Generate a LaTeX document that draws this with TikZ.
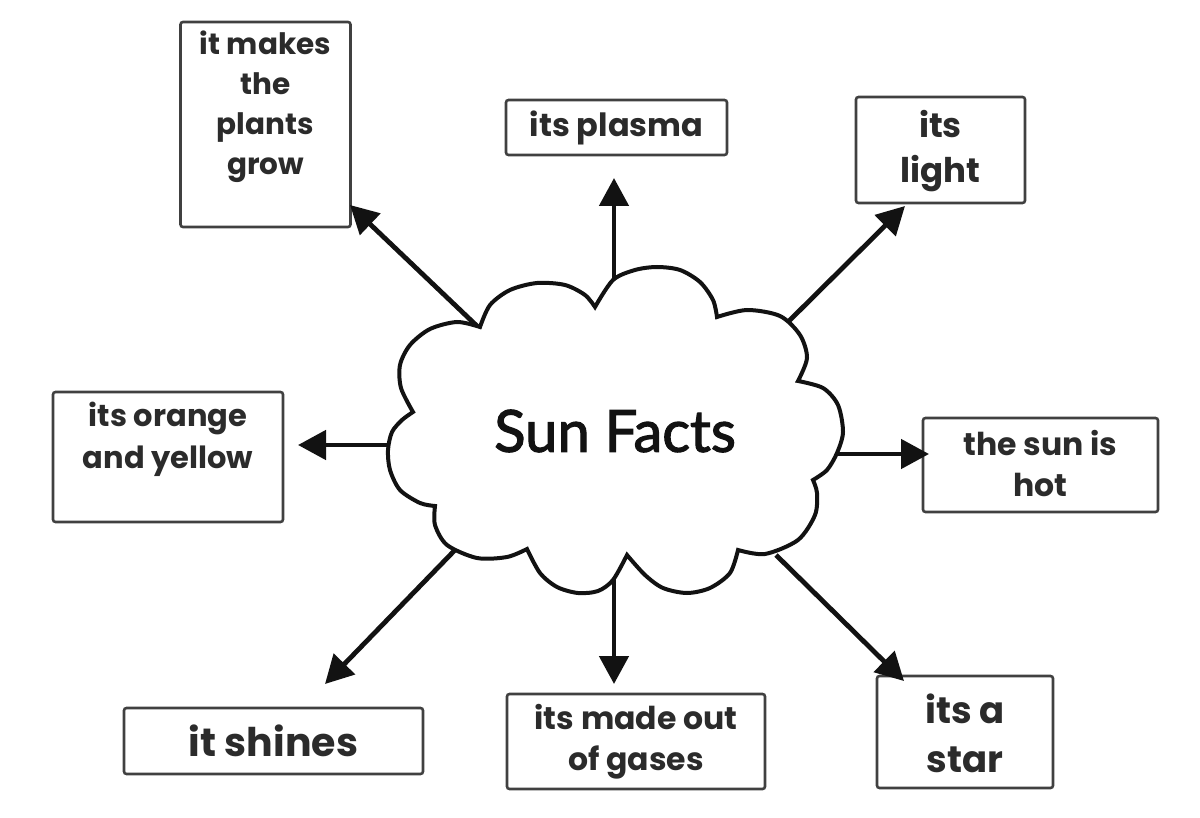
\documentclass[tikz,border=0pt]{standalone}
\usepackage{fontspec}
\setmainfont{Poppins}
\newfontfamily\cloudfont[FakeBold=2]{Lato}
\usetikzlibrary{arrows.meta}
\definecolor{boxline}{HTML}{404040}
\definecolor{txtcol}{HTML}{2B2B2B}
\definecolor{ink}{HTML}{121212}
\tikzset{
  factbox/.style={draw=boxline, line width=2.6pt, rounded corners=2.5pt, fill=white, inner sep=0pt},
  facttxt/.style={text=txtcol, align=center, inner sep=0pt},
  arr/.style={draw=ink, line width=4.8pt, -{Triangle[length=28pt,width=29pt]}},
  cloudline/.style={draw=ink, fill=white, line width=4pt},
}
\newcommand{\fs}[2]{\fontsize{#1}{#2}\selectfont\bfseries}
\begin{document}
\begin{tikzpicture}[x=1pt, y=-1pt]
\useasboundingbox (0,0) rectangle (1200,818);

% boxes
\node[factbox, minimum width=170pt, minimum height=205pt] (plants) at (265.5,124.5) {};
\node[facttxt, font=\fs{29.5}{40}] (plantsT) at (265.5,107) {it makes\\the\\plants\\grow};

\node[factbox, minimum width=221pt, minimum height=55pt] (plasma) at (616.5,127.5) {};
\node[facttxt, font=\fs{32}{40}] (plasmaT) at (616.5,128) {its plasma};

\node[factbox, minimum width=169pt, minimum height=106pt] (light) at (940.5,150) {};
\node[facttxt, font=\fs{34}{45}] (lightT) at (940.5,151) {its\\light};

\node[factbox, minimum width=230pt, minimum height=130pt] (orange) at (168,457) {};
\node[facttxt, font=\fs{30.5}{42}] (orangeT) at (168,439) {its orange\\and yellow};

\node[factbox, minimum width=235pt, minimum height=94pt] (hot) at (1040.5,465) {};
\node[facttxt, font=\fs{31.5}{41}] (hotT) at (1040.5,464) {the sun is\\hot};

\node[factbox, minimum width=299pt, minimum height=66pt] (shines) at (273.5,741) {};
\node[facttxt, font=\fs{39.5}{48}] (shinesT) at (273.5,741) {it shines};

\node[factbox, minimum width=258pt, minimum height=95pt] (gases) at (636,741.5) {};
\node[facttxt, font=\fs{31.5}{41}] (gasesT) at (636,742) {its made out\\of gases};

\node[factbox, minimum width=176pt, minimum height=112pt] (star) at (965,732) {};
\node[facttxt, font=\fs{37}{49}] (starT) at (965,733) {its a\\star};

% arrow end points
\coordinate (a1) at (478,327); \coordinate (b1) at (350,205);
\coordinate (a2) at (614,290); \coordinate (b2) at (614,178);
\coordinate (a3) at (788,322); \coordinate (b3) at (905,206);
\coordinate (a4) at (392,445); \coordinate (b4) at (298,445);
\coordinate (a5) at (833,454); \coordinate (b5) at (929,454);
\coordinate (a6) at (455,550); \coordinate (b6) at (325,684);
\coordinate (a7) at (614,575); \coordinate (b7) at (614,684);
\coordinate (a8) at (776,555); \coordinate (b8) at (904,681);

\foreach \i in {1,...,8} { \draw[arr] (a\i) -- (b\i); }

% cloud
\draw[cloudline] (413,412)
  -- plot[smooth] coordinates {(413,412) (401,388) (400,365) (410,345) (430,329) (457,322) (480,327)}
  -- plot[smooth] coordinates {(480,327) (490,305) (510,290) (537,283) (565,285) (585,295) (595,307)}
  -- plot[smooth] coordinates {(595,307) (613,280) (635,270) (657,267) (680,270) (700,282) (713,300) (717,317)}
  -- plot[smooth] coordinates {(717,317) (747,310) (780,316) (800,335) (807,358) (798,381)}
  -- plot[smooth] coordinates {(798,381) (823,388) (838,405) (843,432) (837,453) (827,470) (813,480)}
  -- plot[smooth] coordinates {(813,480) (817,493) (815,515) (798,540) (765,554) (738,550)}
  -- plot[smooth] coordinates {(738,550) (730,573) (710,588) (687,593) (663,588) (645,575) (627,555)}
  -- plot[smooth] coordinates {(627,555) (613,580) (598,591) (578,593) (557,587) (540,573) (527,549)}
  -- plot[smooth] coordinates {(527,549) (507,557) (477,558) (447,545) (435,525) (435,506)}
  -- plot[smooth] coordinates {(435,506) (420,503) (400,490) (390,470) (388,450) (392,432) (402,420) (413,412)}
  -- cycle;

\node[font=\cloudfont\fontsize{58}{70}\selectfont, text=ink, inner sep=0pt] (sun) at (615,431) {Sun Facts};
\end{tikzpicture}
\end{document}
